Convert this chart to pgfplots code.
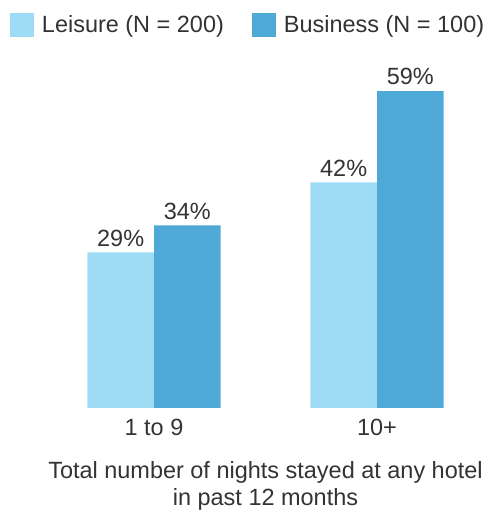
\documentclass[border=0pt]{standalone}
\usepackage{pgfplots}
\pgfplotsset{compat=1.18}
\usepackage{fontspec}
\setmainfont{Liberation Sans}
\definecolor{leis}{HTML}{9EDCF6}
\definecolor{bus}{HTML}{4EA9D6}
\definecolor{txt}{HTML}{333333}
\begin{document}
\begin{tikzpicture}[font=\fontsize{17.6}{20.25}\selectfont, text=txt]
\useasboundingbox (0,0) rectangle (368.25pt,382.5pt);
\begin{axis}[
  at={(31.875pt,76.5pt)}, anchor=south west,
  scale only axis, width=334.5pt, height=261.75pt,
  xmin=-0.5, xmax=1.5, ymin=0, ymax=65,
  ybar=0pt, bar width=50pt,
  axis line style={draw=none},
  ytick=\empty,
  xtick={0,1}, xticklabels={1 to 9,10+},
  major tick length=0pt,
  /pgf/number format/assume math mode=true,
  x tick label style={text=txt, font=\fontsize{17.6}{20.25}\selectfont, inner sep=0pt, yshift=-8pt},
  xlabel={Total number of nights stayed at any hotel\\[0pt]in past 12 months},
  xlabel style={align=center, text=txt, font=\fontsize{17.6}{20.25}\selectfont, yshift=-16pt},
  nodes near coords={\pgfmathprintnumber{\pgfplotspointmeta}\%},
  nodes near coords style={text=txt, font=\fontsize{17.6}{20.25}\selectfont, yshift=1pt},
  legend columns=2,
  legend style={draw=none, fill=none, inner sep=0pt, outer sep=0pt,
    at={(-0.0729,1.132)}, anchor=north west,
    font=\fontsize{17.6}{20.25}\selectfont, text=txt,
    /tikz/every odd column/.append style={column sep=6pt},
    /tikz/every even column/.append style={column sep=21pt},
    nodes={inner sep=0pt, anchor=west}},
]
\addplot[fill=leis, draw=none, legend image code/.code={\fill[leis] (0pt,-9pt) rectangle (18pt,9pt);}] coordinates {(0,29) (1,42)};
\addplot[fill=bus, draw=none, legend image code/.code={\fill[bus] (0pt,-9pt) rectangle (18pt,9pt);}] coordinates {(0,34) (1,59)};
\legend{Leisure (N = 200), Business (N = 100)}
\end{axis}
\end{tikzpicture}
\end{document}
